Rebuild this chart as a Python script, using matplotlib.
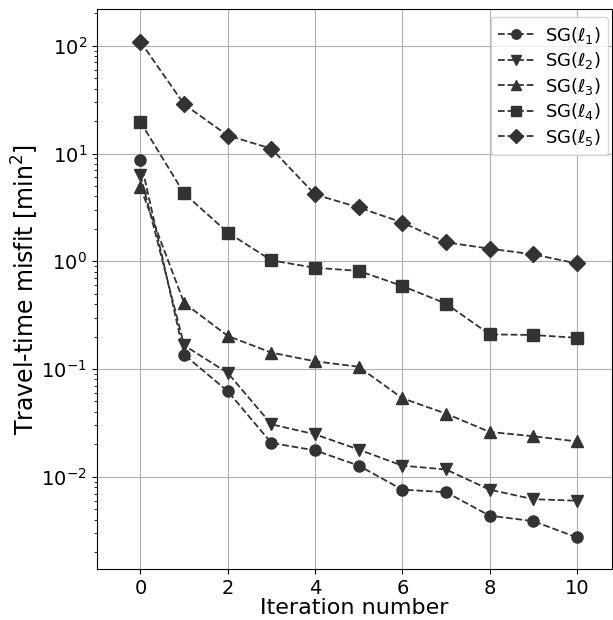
import numpy as np
import matplotlib
matplotlib.use('Agg')
import matplotlib.pyplot as plt

## Data
iters = np.arange(11)
misfit_l1 = [8.69, 0.136, 0.0622, 0.0206, 0.0176, 0.0127, 0.0076, 0.0072, 0.00436, 0.00388, 0.00274]
misfit_l2 = [6.3, 0.166, 0.092, 0.0307, 0.0248, 0.0179, 0.0127, 0.0117, 0.0076, 0.0062, 0.0060]
misfit_l3 = [4.84, 0.41, 0.203, 0.142, 0.118, 0.105, 0.0536, 0.0386, 0.0261, 0.0238, 0.0213]
misfit_l4 = [19.6, 4.26, 1.85, 1.02, 0.87, 0.815, 0.59, 0.405, 0.21, 0.207, 0.195]
misfit_l5 = [109, 28.6, 14.7, 11.1, 4.17, 3.16, 2.29, 1.50, 1.31, 1.16, 0.955]
labels = [r'SG($\ell_1$)', r'SG($\ell_2$)', r'SG($\ell_3$)', r'SG($\ell_4$)', r'SG($\ell_5$)']
markers = ['o', 'v', '^', 's', 'D']

fig = plt.figure(figsize=(6.13, 6.2), dpi=100)
ax = fig.add_axes([0.158, 0.082, 0.84, 0.903])

for yy, lab, mk in zip([misfit_l1, misfit_l2, misfit_l3, misfit_l4, misfit_l5], labels, markers):
    ax.plot(iters, yy, linestyle='--', color='#333333', marker=mk, markersize=8,
            linewidth=1.3, label=lab)

ax.set_yscale('log')
ax.set_xlim(-1, 10.8)
ax.set_ylim(0.00139, 218)
ax.set_xticks([0, 2, 4, 6, 8, 10])
ax.grid(True, which='major', color='#b0b0b0', linewidth=0.8)
ax.tick_params(axis='both', labelsize=14)
ax.set_xlabel('Iteration number', fontsize=16, labelpad=0)
ax.set_ylabel('Travel-time misfit [min$^2$]', fontsize=17, labelpad=0)
ax.legend(loc='upper right', bbox_to_anchor=(1.0, 0.992), fontsize=13, borderaxespad=0.2,
          labelspacing=0.25, markerscale=0.85, handletextpad=0.6)

fig.savefig('out.png', dpi=100)
